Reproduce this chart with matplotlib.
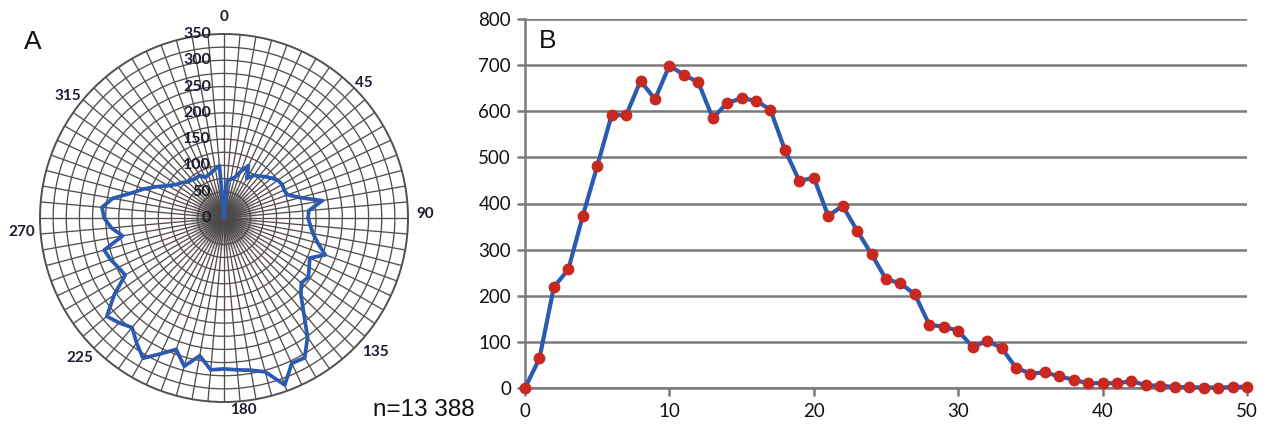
import numpy as np
import matplotlib.pyplot as plt
from matplotlib.transforms import offset_copy

# polar panel (A): counts per 5 degree sector, clockwise from north
angles_deg = np.arange(0, 360, 5)
sector_counts = [3, 72, 75, 80, 95, 110, 87, 99, 104, 111,
                 118, 125, 128, 126, 129, 150, 190, 162, 160, 165,
                 172, 185, 205, 180, 187, 196, 192, 207, 236, 277,
                 307, 305, 338, 303, 294, 290, 287, 290, 266, 292,
                 266, 285, 308, 290, 272, 282, 291, 255, 217, 222,
                 230, 236, 196, 215, 228, 233, 215, 183, 162, 141,
                 123, 111, 105, 97, 95, 92, 94, 85, 87, 90,
                 95, 100]
r_labels = [0, 50, 100, 150, 200, 250, 300, 350]
theta_labels = ['0', '45', '90', '135', '180', '225', '270', '315']
# where the angle labels sit (angle, radius)
theta_label_pos = [(0, 382), (46, 371), (89, 382), (131.6, 384),
                   (174.3, 367), (225.8, 382), (266, 385), (308, 378)]

# line panel (B)
x_vals = np.arange(0, 51)
y_vals = [0, 64, 219, 257, 373, 481, 592, 591, 666, 626,
          699, 679, 663, 585, 618, 628, 623, 603, 516, 449,
          456, 373, 395, 341, 290, 236, 227, 203, 137, 133,
          124, 89, 102, 87, 44, 31, 34, 25, 18, 10,
          11, 10, 15, 6, 5, 2, 2, 1, 1, 2, 3]
y_ticks = [0, 100, 200, 300, 400, 500, 600, 700, 800]
x_ticks = [0, 10, 20, 30, 40, 50]

W, H = 1268, 429
fig = plt.figure(figsize=(W / 100, H / 100), dpi=100)
fig.patch.set_facecolor('white')

lab_font = 'Lato'
grid_col = '#564e4d'
text_col = '#1c1c30'

# ---- A : polar plot
ax = fig.add_axes([40 / W, (H - 402) / H, 368 / W, 368 / H], projection='polar')
ax.set_theta_zero_location('N')
ax.set_theta_direction(-1)
ax.set_rgrids(np.arange(25, 350, 25), labels=[''] * 13)
ax.set_thetagrids(np.arange(0, 360, 5), labels=[''] * 72)
ax.grid(True, color=grid_col, linewidth=0.95)
ax.spines['polar'].set_color(grid_col)
ax.spines['polar'].set_linewidth(1.4)

# grey blur in the middle where the spokes meet
for rad, a in [(62, 0.15), (54, 0.2), (45, 0.25), (34, 0.3), (22, 0.35)]:
    ax.bar(0, rad, width=2 * np.pi, bottom=0, color='#4a4a4a', alpha=a,
           linewidth=0, align='center', zorder=2.6)

th = np.deg2rad(np.append(angles_deg, 360))
rr = np.append(sector_counts, sector_counts[0])
ax.plot(th, rr, color='#2a5bb0', linewidth=2.7, zorder=5)
ax.set_ylim(0, 350)

tr = offset_copy(ax.transData, fig=fig, x=-13, y=0, units='dots')
for r in r_labels:
    ax.text(0, r, str(r), transform=tr, ha='right', va='center',
            fontsize=11.5, fontweight='bold', color=text_col, family=lab_font, zorder=6)

for lab, (a, r) in zip(theta_labels, theta_label_pos):
    ax.text(np.deg2rad(a), r, lab, ha='center', va='center', fontsize=11,
            fontweight='bold', color=text_col, family=lab_font, clip_on=False)

fig.text(33 / W, 1 - 42 / H, 'A', fontsize=19, family='Liberation Sans',
         ha='center', va='center', color='#111111')
fig.text(424 / W, 1 - 410 / H, 'n=13 388', fontsize=17.5, family='Liberation Sans',
         ha='center', va='center', color='#111111')

# ---- B : line plot
bx = fig.add_axes([525 / W, (H - 388) / H, 722 / W, 369 / H])
bx.plot(x_vals, y_vals, color='#2a5bb0', linewidth=3.0, marker='o',
        markersize=7.5, markerfacecolor='#c8281f', markeredgecolor='#c8281f',
        clip_on=False, zorder=5)
bx.set_xlim(0, 50)
bx.set_ylim(0, 800)
bx.set_yticks(y_ticks)
bx.set_xticks(x_ticks)
bx.yaxis.grid(True, color='#7a7a7a', linewidth=1.8)
bx.set_axisbelow(True)
for s in ['top', 'right']:
    bx.spines[s].set_visible(False)
for s in ['left', 'bottom']:
    bx.spines[s].set_color('#7a7a7a')
    bx.spines[s].set_linewidth(1.8)
bx.tick_params(axis='both', colors='#7a7a7a', length=6, width=1.8,
               labelsize=13.5, labelcolor='#111111')
bx.tick_params(axis='y', pad=4)
bx.tick_params(axis='x', pad=5)
for t in bx.get_xticklabels() + bx.get_yticklabels():
    t.set_family(lab_font)
bx.text(0.032, 0.94, 'B', transform=bx.transAxes, fontsize=19,
        family='Liberation Sans', ha='center', va='center', color='#111111')

fig.savefig('out.png', dpi=100)
